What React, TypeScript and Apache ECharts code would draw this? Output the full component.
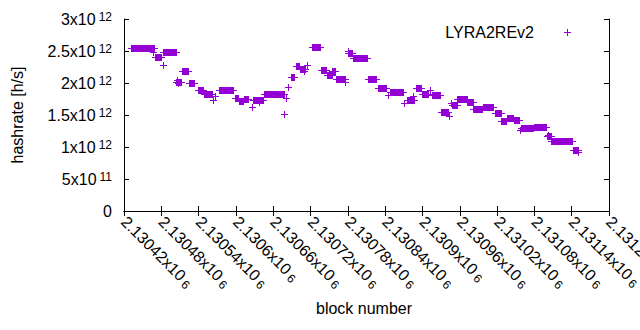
import React, { useEffect, useRef } from "react";
import * as echarts from "echarts";

// Plateaus of constant hashrate: first block, last block, hashrate [h/s]
const BLOCK_START = [
  2130431, 2130466, 2130470, 2130482, 2130483, 2130504, 2130506, 2130507, 2130514, 2130525,
  2130539, 2130548, 2130563, 2130567, 2130572, 2130598, 2130605, 2130613, 2130626, 2130628,
  2130637, 2130645, 2130677, 2130681, 2130684, 2130689, 2130697, 2130703, 2130709, 2130714,
  2130722, 2130737, 2130746, 2130755, 2130761, 2130768, 2130775, 2130780, 2130781, 2130788,
  2130812, 2130828, 2130845, 2130847, 2130871, 2130875, 2130884, 2130889, 2130900, 2130912,
  2130916, 2130930, 2130943, 2130946, 2130947, 2130956, 2130972, 2130982, 2130997, 2131004,
  2131016, 2131027, 2131036, 2131047, 2131057, 2131059, 2131079, 2131100, 2131102, 2131107,
  2131142, 2131150,
];
const BLOCK_END = [
  2130468, 2130466, 2130480, 2130482, 2130503, 2130512, 2130506, 2130507, 2130523, 2130533,
  2130547, 2130561, 2130563, 2130567, 2130595, 2130604, 2130612, 2130620, 2130626, 2130643,
  2130637, 2130678, 2130677, 2130681, 2130684, 2130693, 2130701, 2130711, 2130709, 2130714,
  2130735, 2130745, 2130754, 2130760, 2130767, 2130776, 2130775, 2130780, 2130786, 2130810,
  2130826, 2130842, 2130845, 2130869, 2130871, 2130887, 2130884, 2130898, 2130909, 2130912,
  2130928, 2130941, 2130943, 2130946, 2130955, 2130971, 2130981, 2130996, 2131003, 2131014,
  2131026, 2131035, 2131046, 2131055, 2131057, 2131078, 2131099, 2131106, 2131102, 2131141,
  2131150, 2131150,
];
const HASHRATE = [
  2.545e12, 2.49e12, 2.40e12, 2.28e12, 2.48e12, 2.02e12, 2.045e12, 2.0e12, 2.185e12, 2.0e12,
  1.89e12, 1.825e12, 1.735e12, 1.80e12, 1.89e12, 1.76e12, 1.72e12, 1.75e12, 1.63e12, 1.735e12,
  1.705e12, 1.825e12, 1.51e12, 1.77e12, 1.93e12, 2.09e12, 2.26e12, 2.22e12, 2.185e12, 2.28e12,
  2.565e12, 2.20e12, 2.13e12, 2.185e12, 2.07e12, 2.06e12, 2.02e12, 2.50e12, 2.47e12, 2.39e12,
  2.055e12, 1.92e12, 1.82e12, 1.855e12, 1.69e12, 1.735e12, 1.80e12, 1.92e12, 1.835e12, 1.89e12,
  1.82e12, 1.55e12, 1.485e12, 1.68e12, 1.66e12, 1.75e12, 1.70e12, 1.59e12, 1.63e12, 1.62e12,
  1.525e12, 1.40e12, 1.46e12, 1.42e12, 1.27e12, 1.29e12, 1.315e12, 1.17e12, 1.19e12, 1.10e12,
  0.95e12, 0.915e12,
];

const X_MIN = 2130420;
const X_MAX = 2131200;
const X_STEP = 60;
const Y_MIN = 0;
const Y_MAX = 3e12;
const Y_STEP = 5e11;

const SERIES_NAME = "LYRA2REv2";
const X_TITLE = "block number";
const Y_TITLE = "hashrate [h/s]";

const COLOR = "#9400d3";
const FONT = "'Liberation Sans', Arial, Helvetica, sans-serif";

function sci(v: number): string {
  if (v === 0) return "{m|0}";
  const e = Math.floor(Math.log10(Math.abs(v)) + 1e-9);
  const m = parseFloat((v / Math.pow(10, e)).toPrecision(7));
  return `{m|${m}x10}{s|${e}}`;
}

export default function App() {
  const ref = useRef<HTMLDivElement>(null);

  useEffect(() => {
    if (!ref.current) return;
    const chart = echarts.init(ref.current, undefined, { renderer: "svg" });
    const data = BLOCK_START.map((s, i) => [s, BLOCK_END[i], HASHRATE[i]]);
    const arm = 3;

    const baseAxis = {
      axisLine: { show: true, lineStyle: { color: "#000", width: 1 } },
      axisTick: { show: true, inside: true, length: 5, lineStyle: { color: "#000" } },
      splitLine: { show: false },
    };

    chart.setOption({
      animation: false,
      backgroundColor: "#fff",
      grid: {
        left: 124,
        right: 31,
        top: 19,
        bottom: 119,
        containLabel: false,
        outerBoundsMode: "none",
      },
      xAxis: [
        {
          ...baseAxis,
          type: "value",
          position: "bottom",
          min: X_MIN,
          max: X_MAX,
          interval: X_STEP,
          axisLabel: {
            show: true,
            rotate: -45,
            margin: 8,
            interval: 0,
            showMinLabel: true,
            showMaxLabel: true,
            formatter: (v: number) => sci(v),
            rich: {
              m: { fontSize: 16, fontFamily: FONT, color: "#000", lineHeight: 18 },
              s: { fontSize: 12, fontFamily: FONT, color: "#000", padding: [0, 0, 0, 3], verticalAlign: "bottom", lineHeight: 12 },
            },
          },
        },
        {
          ...baseAxis,
          type: "value",
          position: "top",
          min: X_MIN,
          max: X_MAX,
          interval: X_STEP,
          axisLabel: { show: false },
        },
      ],
      yAxis: [
        {
          ...baseAxis,
          type: "value",
          position: "left",
          min: Y_MIN,
          max: Y_MAX,
          interval: Y_STEP,
          axisLabel: {
            show: true,
            margin: 12,
            formatter: (v: number) => sci(v),
            rich: {
              m: { fontSize: 16, fontFamily: FONT, color: "#000", lineHeight: 16 },
              s: { fontSize: 12, fontFamily: FONT, color: "#000", padding: [0, 0, 0, 3], verticalAlign: "top", lineHeight: 11 },
            },
          },
        },
        {
          ...baseAxis,
          type: "value",
          position: "right",
          min: Y_MIN,
          max: Y_MAX,
          interval: Y_STEP,
          axisLabel: { show: false },
        },
      ],
      series: [
        {
          name: SERIES_NAME,
          type: "custom",
          xAxisIndex: 0,
          yAxisIndex: 0,
          data,
          encode: { x: [0, 1], y: 2 },
          renderItem: (params: any, api: any) => {
            const p1 = api.coord([api.value(0), api.value(2)]);
            const p2 = api.coord([api.value(1), api.value(2)]);
            const x1 = Math.round(p1[0]);
            const x2 = Math.round(p2[0]);
            const y = Math.round(p1[1]);
            return {
              type: "group",
              children: [
                {
                  type: "rect",
                  shape: { x: x1, y: y - arm, width: x2 - x1 + 1, height: 2 * arm + 1 },
                  style: { fill: COLOR },
                },
                {
                  type: "rect",
                  shape: { x: x1 - arm, y: y, width: x2 - x1 + 2 * arm + 1, height: 1 },
                  style: { fill: COLOR },
                },
              ],
            };
          },
        },
      ],
      graphic: [
        {
          type: "text",
          x: 17,
          y: 115,
          rotation: Math.PI / 2,
          style: {
            text: Y_TITLE,
            font: `16px ${FONT}`,
            fill: "#000",
            align: "center",
            verticalAlign: "middle",
          },
        },
        {
          type: "text",
          x: 364,
          y: 308,
          style: {
            text: X_TITLE,
            font: `16px ${FONT}`,
            fill: "#000",
            align: "center",
            verticalAlign: "middle",
          },
        },
        {
          type: "group",
          children: [
            {
              type: "text",
              x: 534,
              y: 32,
              style: {
                text: SERIES_NAME,
                font: `16px ${FONT}`,
                fill: "#000",
                align: "right",
                verticalAlign: "middle",
              },
            },
            { type: "rect", shape: { x: 564, y: 32, width: 7, height: 1 }, style: { fill: COLOR } },
            { type: "rect", shape: { x: 567, y: 29, width: 1, height: 7 }, style: { fill: COLOR } },
          ],
        },
      ],
    });

    return () => chart.dispose();
  }, []);

  return (
    <div
      ref={ref}
      style={{ position: "fixed", left: 0, top: 0, width: 640, height: 330, background: "#fff" }}
    />
  );
}
